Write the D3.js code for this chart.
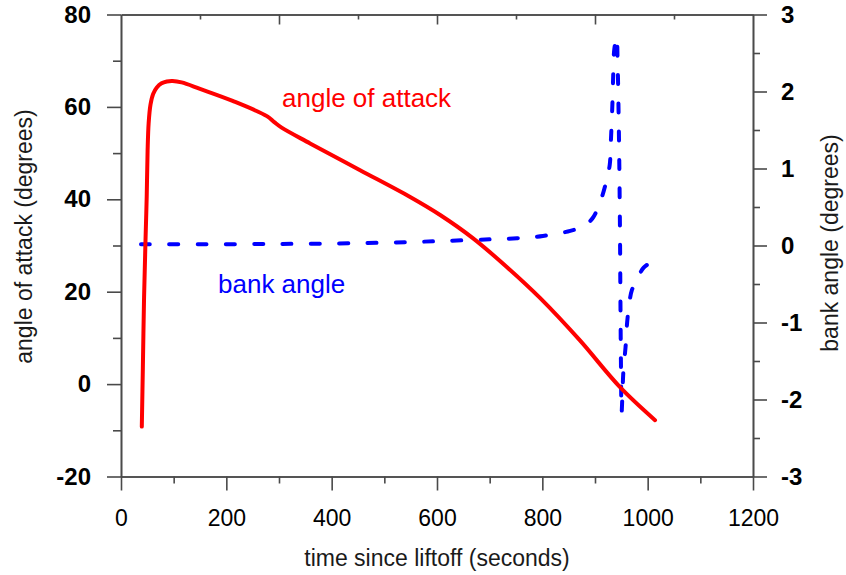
<!DOCTYPE html>
<html><head><meta charset="utf-8">
<script src="https://cdn.jsdelivr.net/npm/d3@7"></script>
<style>
body{margin:0;background:#fff}
svg{display:block}
text{font-family:"Liberation Sans",Arial,Helvetica,sans-serif;fill:#000}
</style>
</head><body>
<svg id="chart" width="846" height="575"></svg>
<script>
// ---- data ----
const timeTicks = [0, 200, 400, 600, 800, 1000, 1200];
const timeMinorTicks = [100, 300, 500, 700, 900, 1100];
const topMajorTicks = [300, 600, 900];
const topMinorTicks = [150, 450, 750, 1050];
const aoaTicks = [-20, 0, 20, 40, 60, 80];
const aoaMinorTicks = [-10, 10, 30, 50, 70];
const bankTicks = [-3, -2, -1, 0, 1, 2, 3];
const bankMinorTicks = [-2.5, -1.5, -0.5, 0.5, 1.5, 2.5];

const aoaTime = [39.5, 41.5, 43.7, 46.5, 48.8, 50.5, 52.5, 56, 61, 68, 77, 87, 98, 115, 150, 212, 277, 291, 305, 359, 454, 549, 606, 668, 733, 796, 871, 947, 1014];
const aoaValues = [-9.2, 3.5, 18.2, 31, 40.5, 50.5, 56.5, 60.5, 62.8, 64.2, 65.1, 65.5, 65.6, 65.3, 63.9, 61.3, 58.0, 56.7, 55.5, 52.1, 46.3, 40.5, 36.6, 31.6, 25.3, 18.6, 9.5, -0.6, -7.8];

const bankTime = [38, 150, 300, 450, 550, 625, 700, 752, 801, 853, 878, 896, 913, 922, 928, 930, 933, 934.5, 936.5, 941, 943, 945, 946.5, 947.5, 948.3, 949.2, 950.5, 952, 954, 958, 962, 970, 977, 992, 1009];
const bankValues = [0.015, 0.016, 0.02, 0.03, 0.045, 0.062, 0.08, 0.094, 0.124, 0.19, 0.25, 0.36, 0.63, 0.85, 1.05, 1.33, 1.83, 2.19, 2.54, 2.71, 2.35, 1.63, 0.85, 0.11, -0.71, -1.49, -2.17, -1.95, -1.62, -1.32, -0.93, -0.58, -0.49, -0.29, -0.21];

const xTitle = "time since liftoff (seconds)";
const yLeftTitle = "angle of attack (degrees)";
const yRightTitle = "bank angle (degrees)";
const seriesLabels = ["angle of attack", "bank angle"];

// ---- layout ----
const L = 121, R = 753, T = 14.5, B = 476.5;
const svg = d3.select("#chart");
const x = d3.scaleLinear().domain([0, 1200]).range([L, R]);
const yL = d3.scaleLinear().domain([-20, 80]).range([B, T]);
const yR = d3.scaleLinear().domain([-3, 3]).range([B, T]);

const axisColor = "#4a4a4a";
function styleAxis(g) {
  g.selectAll("path.domain").attr("stroke", axisColor).attr("stroke-width", 1.6);
  g.selectAll(".tick line").attr("stroke", axisColor).attr("stroke-width", 1.6);
}

// bottom
const gB = svg.append("g").attr("transform", `translate(0,${B})`)
  .call(d3.axisBottom(x).tickValues(timeTicks).tickSize(14).tickSizeOuter(0).tickPadding(19).tickFormat(d3.format("d")));
gB.selectAll("text").attr("font-size", 23).attr("font-family", '"Liberation Sans",Arial,sans-serif');
styleAxis(gB);
const gBm = svg.append("g").attr("transform", `translate(0,${B})`)
  .call(d3.axisBottom(x).tickValues(timeMinorTicks).tickSize(7).tickSizeOuter(0).tickFormat(""));
styleAxis(gBm);

// top
const gT = svg.append("g").attr("transform", `translate(0,${T})`)
  .call(d3.axisBottom(x).tickValues(topMajorTicks).tickSize(10).tickSizeOuter(0).tickFormat(""));
styleAxis(gT);
const gTm = svg.append("g").attr("transform", `translate(0,${T})`)
  .call(d3.axisBottom(x).tickValues(topMinorTicks).tickSize(5).tickSizeOuter(0).tickFormat(""));
styleAxis(gTm);

// left
const gL = svg.append("g").attr("transform", `translate(${L},0)`)
  .call(d3.axisLeft(yL).tickValues(aoaTicks).tickSize(14).tickSizeOuter(0).tickPadding(16).tickFormat(d3.format("d")));
gL.selectAll("text").attr("font-size", 24).attr("font-weight", "bold").attr("font-family", '"Liberation Sans",Arial,sans-serif');
styleAxis(gL);
const gLm = svg.append("g").attr("transform", `translate(${L},0)`)
  .call(d3.axisLeft(yL).tickValues(aoaMinorTicks).tickSize(8).tickSizeOuter(0).tickFormat(""));
styleAxis(gLm);

// right
const gR = svg.append("g").attr("transform", `translate(${R},0)`)
  .call(d3.axisRight(yR).tickValues(bankTicks).tickSize(14).tickSizeOuter(0).tickPadding(14).tickFormat(d3.format("d")));
gR.selectAll("text").attr("font-size", 24).attr("font-weight", "bold").attr("font-family", '"Liberation Sans",Arial,sans-serif');
styleAxis(gR);
const gRm = svg.append("g").attr("transform", `translate(${R},0)`)
  .call(d3.axisRight(yR).tickValues(bankMinorTicks).tickSize(7).tickSizeOuter(0).tickFormat(""));
styleAxis(gRm);

// use a plain hyphen for negative labels, as in the reference
svg.selectAll(".tick text").text(function(){ return this.textContent.replace("\u2212", "-"); });

// ---- series ----
const aoaData = aoaTime.map((t, i) => [t, aoaValues[i]]);
const bankData = bankTime.map((t, i) => [t, bankValues[i]]);

svg.append("path").datum(bankData)
  .attr("fill", "none").attr("stroke", "#0000ff").attr("stroke-width", 4)
  .attr("stroke-linecap", "round").attr("stroke-dasharray", "9 19.3")
  .attr("d", d3.line().x(d => x(d[0])).y(d => yR(d[1])).curve(d3.curveCatmullRom.alpha(0.5)));

svg.append("path").datum(aoaData)
  .attr("fill", "none").attr("stroke", "#ff0000").attr("stroke-width", 4)
  .attr("stroke-linecap", "round").attr("stroke-linejoin", "round")
  .attr("d", d3.line().x(d => x(d[0])).y(d => yL(d[1])).curve(d3.curveCatmullRom.alpha(0.5)));

// ---- labels ----
svg.append("text").attr("x", 282).attr("y", 107).attr("font-size", 26)
  .style("fill", "#ff0000").text(seriesLabels[0]);
svg.append("text").attr("x", 218).attr("y", 293).attr("font-size", 26)
  .style("fill", "#0000ff").text(seriesLabels[1]);

// ---- axis titles ----
svg.append("text").attr("x", (L + R) / 2).attr("y", 566).attr("text-anchor", "middle")
  .attr("font-size", 23).style("fill", "#1a1a1a").text(xTitle);
svg.append("text").attr("transform", "translate(32,236.5) rotate(-90)").attr("text-anchor", "middle")
  .attr("font-size", 23).style("fill", "#1a1a1a").text(yLeftTitle);
svg.append("text").attr("transform", "translate(838,243) rotate(-90)").attr("text-anchor", "middle")
  .attr("font-size", 23).style("fill", "#1a1a1a").text(yRightTitle);
</script>
</body></html>
